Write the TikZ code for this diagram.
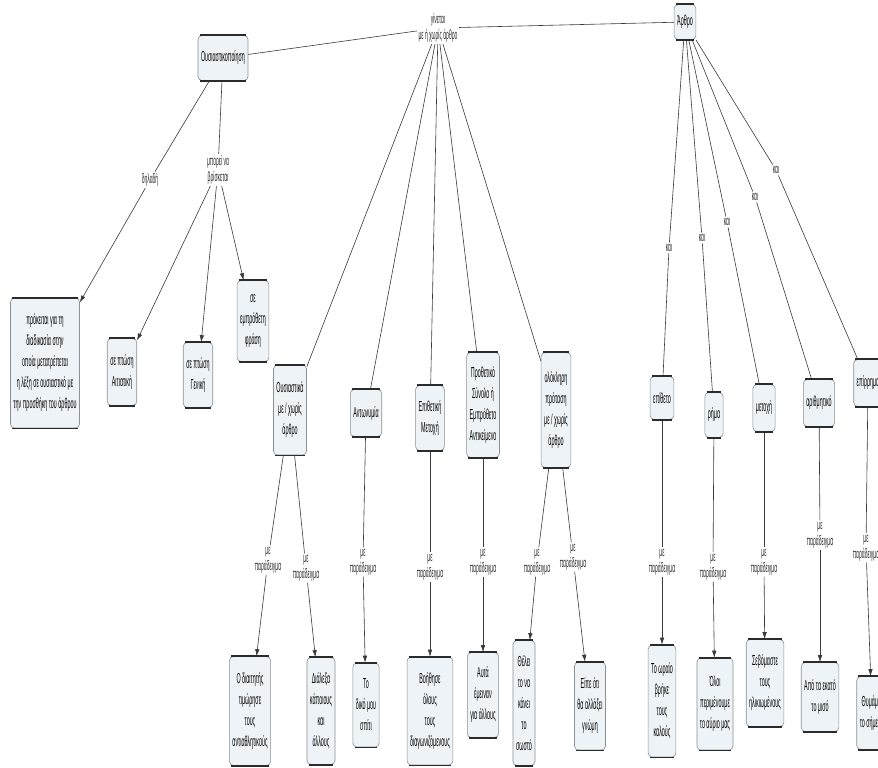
\documentclass[tikz,border=0pt]{standalone}
\usepackage{fontspec}
\newfontfamily\cmapfont{Liberation Sans}[FakeStretch=0.37]
\usetikzlibrary{arrows.meta}
\definecolor{cfill}{HTML}{EEF3F7}
\definecolor{cedge}{HTML}{8A9096}
\definecolor{cdark}{HTML}{2B2B2B}
\definecolor{cline}{HTML}{3A3A3A}
\tikzset{
  concept/.style={draw=cedge,fill=cfill,rounded corners=4pt,line width=0.6pt,align=center,font=\cmapfont\fontsize{14.5}{21}\selectfont,inner xsep=3pt,inner ysep=6pt,text=black},
  linking/.style={fill=white,align=center,font=\cmapfont\fontsize{13.5}{16}\selectfont,inner sep=1.5pt,text=black!85},
  ln/.style={line width=0.6pt,draw=cline},
  arr/.style={-{Latex[length=7pt,width=4.5pt]},line width=0.6pt,draw=cline},
  rim/.style={line width=1.6pt,draw=cdark},
}

\begin{document}
\begin{tikzpicture}[x=1pt,y=-1pt]
  \fill[white] (0,0) rectangle (878,768);
  \useasboundingbox (0,0) rectangle (878,768);
  % --- top
  \node[concept,minimum height=45,minimum width=46] (ousia) at (223,58) {Ουσιαστικοποίηση};
  \node[concept,minimum height=35] (arthro) at (685,22) {Άρθρο};
  \node[linking] (link0) at (438,28) {γίνεται\\με ή χωρίς άρθρο};
  \draw[ln] (ousia) -- (link0);
  \draw[ln] (link0) -- (arthro);
  % --- left branch
  \node[linking] (dil) at (150,180) {δηλαδή};
  \node[linking] (brisk) at (218,170) {μπορεί να\\βρίσκεται};
  \foreach \n/\x/\y/\h/\t in {
      big/45/363/130/{πρόκειται για τη\\διαδικασία στην\\οποία μετατρέπεται\\η λέξη σε ουσιαστικό με\\την προσθήκη του άρθρου},
      ait/122/372/67/{σε πτώση\\Αιτιατική},
      gen/198/375/65/{σε πτώση\\Γενική},
      emp/253/321/81/{σε\\εμπρόθετη\\φράση}} {
    \node[concept,minimum height=\h] (\n) at (\x,\y) {\t};
  }
  \draw[ln] (ousia) -- (dil);
  \draw[arr] (dil) -- (big);
  \draw[ln] (ousia) -- (brisk);
  \foreach \b in {ait,gen,emp} \draw[arr] (brisk) -- (\b);
  % --- middle branch
  \foreach \n/\x/\y/\h/\t in {
      m1/290/410/90/{Ουσιαστικά\\με / χωρίς\\άρθρο},
      m2/366/413/47/{Αντωνυμία},
      m3/430/418/65/{Επιθετική\\Μετοχή},
      m4/483/405/105/{Προθετικό\\Σύνολο ή\\Εμπρόθετο\\Αντικείμενο},
      m5/556/410/115/{ολόκληρη\\πρόταση\\με / χωρίς\\άρθρο}} {
    \node[concept,minimum height=\h] (\n) at (\x,\y) {\t};
    \draw[ln] (link0) -- (\n);
  }
  % --- right branch
  \foreach \n/\k/\x/\y/\h/\kx/\ky/\t in {
      r1/k1/662/398/43/669/248/{επίθετο},
      r2/k2/714/415/45/702/238/{ρήμα},
      r3/k3/764/408/47/727/222/{μετοχή},
      r4/k4/819/403/47/755/197/{αριθμητικό},
      r5/k5/868/383/47/776/170/{επίρρημα}} {
    \node[concept,minimum height=\h] (\n) at (\x,\y) {\t};
    \node[linking] (\k) at (\kx,\ky) {και};
    \draw[ln] (arthro) -- (\k);
    \draw[ln] (\k) -- (\n);
  }
  % --- examples
  \foreach \n/\x/\y/\h/\t in {
      e1/250/711/109/{Ο διαιτητής\\τιμώρησε\\τους\\αντιαθλητικούς},
      e2/321/711/107/{Διάλεξα\\κάποιους\\και\\άλλους},
      e3/366/705/84/{Το\\δικό μου\\σπίτι},
      e4/430/711/108/{Βοήθησε\\όλους\\τους\\διαγωνιζόμενους},
      e5/483/695/85/{Αυτά\\έμειναν\\για άλλους},
      e6/524/703/125/{Θέλει\\το να\\κάνει\\το\\σωστό},
      e7/590/706/88/{Είπε ότι\\θα αλλάξει\\γνώμη},
      e8/662/701/112/{Το ωραίο\\βρήκε\\τους\\καλούς},
      e9/715/704/92/{Όλοι\\περιμένουμε\\το αύριο μας},
      e10/765/683/87/{Σεβόμαστε\\τους\\ηλικιωμένους},
      e11/820/697/69/{Από τα εκατό\\το μισό},
      e12/872/713/73/{Θυμάμαι\\το σήμερα}} {
    \node[concept,minimum height=\h] (\n) at (\x,\y) {\t};
  }
  \foreach \a/\l/\x/\y/\b in {m1/p1/268/560/e1, m1/p2/306/568/e2, m2/p3/363/562/e3, m3/p4/430/567/e4,
      m4/p5/483/562/e5, m5/p6/537/562/e6, m5/p7/573/557/e7, r1/p8/662/562/e8, r2/p9/713/567/e9,
      r3/p10/764/562/e10, r4/p11/820/535/e11, r5/p12/866/548/e12} {
    \node[linking] (\l) at (\x,\y) {με\\παράδειγμα};
    \draw[ln] (\a) -- (\l);
    \draw[arr] (\l) -- (\b);
  }
  % dark rims
  \foreach \n in {ousia,arthro,big,ait,gen,emp,m1,m2,m3,m4,m5,r1,r2,r3,r4,r5,e1,e2,e3,e4,e5,e6,e7,e8,e9,e10,e11,e12} {
    \draw[rim] ([xshift=2pt]\n.north west) -- ([xshift=-2pt]\n.north east);
    \draw[rim] ([xshift=2pt]\n.south west) -- ([xshift=-2pt]\n.south east);
  }
\end{tikzpicture}
\end{document}
